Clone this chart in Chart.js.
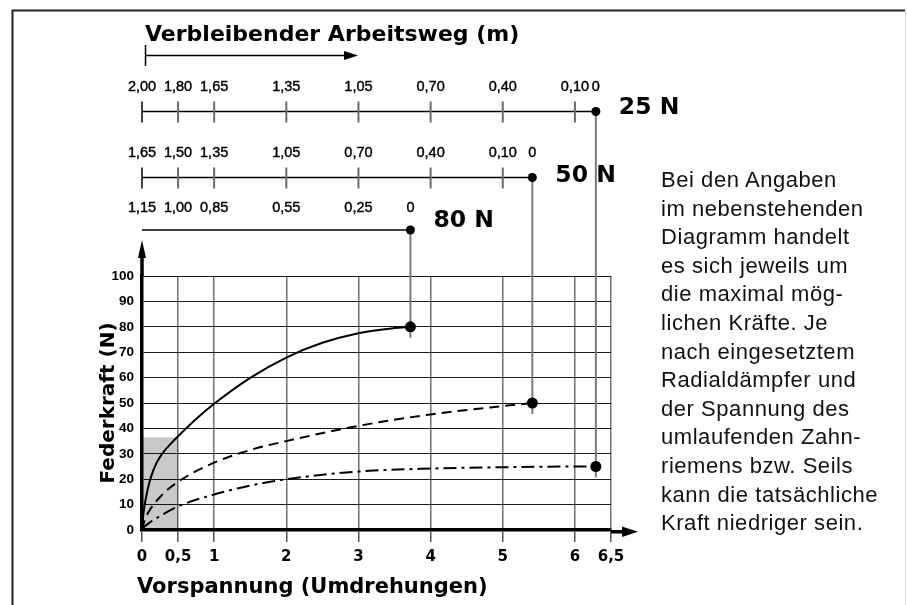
<!DOCTYPE html>
<html lang="de">
<head>
<meta charset="utf-8">
<title>Federkraft</title>
<script src="https://cdn.jsdelivr.net/npm/chart.js@4.4.0/dist/chart.umd.min.js"></script>
<style>
  body { margin: 0; background: #fff; }
  #wrap { position: relative; width: 907px; height: 605px; overflow: hidden; }
  #federChart { position: absolute; left: 0; top: 0; }
  #hinweis {
    position: absolute; left: 661px; top: 166px;
    font-family: "Liberation Sans", sans-serif; font-size: 22px; line-height: 28.6px;
    letter-spacing: 0.55px; color: #111; white-space: nowrap;
  }
</style>
</head>
<body>
<div id="wrap">
  <canvas id="federChart" width="907" height="605"></canvas>
  <div id="hinweis">
    Bei den Angaben<br>
    im nebenstehenden<br>
    Diagramm handelt<br>
    es sich jeweils um<br>
    die maximal mög-<br>
    lichen Kräfte. Je<br>
    nach eingesetztem<br>
    Radialdämpfer und<br>
    der Spannung des<br>
    umlaufenden Zahn-<br>
    riemens bzw. Seils<br>
    kann die tatsächliche<br>
    Kraft niedriger sein.
  </div>
</div>
<script>
// Achsen
const vorspannungTicks = [0, 0.5, 1, 2, 3, 4, 5, 6, 6.5];
const kraftMax = 100;

// Kennlinien (Vorspannung in Umdrehungen -> Federkraft in N)
const kurve80x = [0, 0.02, 0.05, 0.1, 0.15, 0.2, 0.25, 0.3, 0.4, 0.5, 0.75, 1, 1.5, 2, 2.5, 3, 3.5, 3.72];
const kurve80y = [0, 6.5, 12, 18.5, 23, 26.3, 28.8, 30.8, 34, 36.9, 43.7, 49.7, 59.9, 67.9, 73.7, 77.5, 79.5, 80];

const kurve50x = [0, 0.035, 0.1, 0.25, 0.5, 1, 1.5, 2, 3, 4, 5, 5.41];
const kurve50y = [0, 3.7, 7.5, 13, 19, 26.5, 31.5, 35, 41, 45.5, 48.8, 50];

const kurve25x = [0, 0.1, 0.25, 0.5, 1, 1.5, 2, 3, 4, 5, 6, 6.29];
const kurve25y = [0.5, 2.8, 5.5, 9.3, 14, 17.5, 20, 23, 24.2, 24.7, 25, 25];

// Endpunkte der Kennlinien
const endeX = [3.72, 5.41, 6.29];
const endeY = [80, 50, 25];
const endeLabels = ['80 N', '50 N', '25 N'];

// grau hinterlegter Bereich
const grauX = [0, 0.5];
const grauY = 36.5;

// Verbleibender Arbeitsweg je Kennlinie
const weg80Pos = [0, 0.5, 1, 2, 3, 3.72];
const weg80 = ['1,15', '1,00', '0,85', '0,55', '0,25', '0'];
const weg50Pos = [0, 0.5, 1, 2, 3, 4, 5, 5.41];
const weg50 = ['1,65', '1,50', '1,35', '1,05', '0,70', '0,40', '0,10', '0'];
const weg25Pos = [0, 0.5, 1, 2, 3, 4, 5, 6, 6.29];
const weg25 = ['2,00', '1,80', '1,65', '1,35', '1,05', '0,70', '0,40', '0,10', '0'];

const pts = (xs, ys) => xs.map((x, i) => ({ x: x, y: ys[i] }));

// Zeilen oberhalb des Diagramms (y in Pixel)
const reihen = [
  { pos: weg80Pos, labels: weg80, y: 230, labelY: 208, nY: 227, striche: false },
  { pos: weg50Pos, labels: weg50, y: 177.5, labelY: 153, nY: 182, striche: true },
  { pos: weg25Pos, labels: weg25, y: 111.5, labelY: 87, nY: 113.5, striche: true }
];

const skizze = {
  id: 'skizze',
  beforeDraw(chart) {
    const c = chart.ctx;
    c.save();
    c.fillStyle = '#fff';
    c.fillRect(0, 0, chart.width, chart.height);
    c.strokeStyle = '#222';
    c.lineWidth = 2;
    c.beginPath();
    c.moveTo(12.5, 605); c.lineTo(12.5, 10.5); c.lineTo(905, 10.5);
    c.stroke();
    c.strokeStyle = '#ddd';
    c.lineWidth = 1;
    c.beginPath(); c.moveTo(905.5, 11); c.lineTo(905.5, 605); c.stroke();
    c.restore();
  },
  beforeDatasetsDraw(chart) {
    const c = chart.ctx, x = chart.scales.x, y = chart.scales.y;
    c.save();
    c.strokeStyle = '#7a7a7a';
    c.lineWidth = 2;
    endeX.forEach((v, i) => {
      const px = x.getPixelForValue(v), py = y.getPixelForValue(endeY[i]);
      c.beginPath(); c.moveTo(px, reihen[i].y); c.lineTo(px, py + 11); c.stroke();
    });
    c.restore();
  },
  afterDraw(chart) {
    const c = chart.ctx, x = chart.scales.x;
    const a = chart.chartArea;
    c.save();

    // Achsenpfeile
    c.fillStyle = '#000';
    c.strokeStyle = '#000';
    c.lineWidth = 3.5;
    c.beginPath(); c.moveTo(a.left, a.top); c.lineTo(a.left, 255); c.stroke();
    c.beginPath(); c.moveTo(a.left, 240); c.lineTo(a.left - 4, 258); c.lineTo(a.left + 4, 258); c.closePath(); c.fill();
    c.beginPath(); c.moveTo(a.right, a.bottom + 1.75); c.lineTo(626, a.bottom + 1.75); c.stroke();
    c.beginPath(); c.moveTo(638, a.bottom + 1.75); c.lineTo(622, a.bottom - 3.5); c.lineTo(622, a.bottom + 7); c.closePath(); c.fill();

    // Arbeitsweg-Skalen
    reihen.forEach((r, i) => {
      const x0 = x.getPixelForValue(r.pos[0]);
      const xe = x.getPixelForValue(r.pos[r.pos.length - 1]);
      c.strokeStyle = '#000';
      c.lineWidth = 1.5;
      c.beginPath(); c.moveTo(x0, r.y); c.lineTo(xe, r.y); c.stroke();
      if (r.striche) {
        r.pos.slice(0, -1).forEach((p, k) => {
          const px = x.getPixelForValue(p);
          c.strokeStyle = k === 0 ? '#000' : '#6a6a6a';
          c.lineWidth = k === 0 ? 1.5 : 2;
          c.beginPath(); c.moveTo(px, r.y - 10); c.lineTo(px, r.y + 11); c.stroke();
        });
      }
      c.fillStyle = '#000';
      c.beginPath(); c.arc(xe, r.y, 4.5, 0, Math.PI * 2); c.fill();

      c.font = '14.5px "Liberation Sans"';
      c.textAlign = 'center';
      c.textBaseline = 'middle';
      c.strokeStyle = '#000';
      c.lineWidth = 0.4;
      r.labels.forEach((t, k) => {
        const px = x.getPixelForValue(r.pos[k]);
        c.fillText(t, px, r.labelY);
        c.strokeText(t, px, r.labelY);
      });

      c.font = 'bold 23.5px "DejaVu Sans"';
      c.textAlign = 'left';
      c.textBaseline = 'alphabetic';
      c.fillText(endeLabels[i], xe + 23, r.nY);
    });

    // Titel
    c.fillStyle = '#000';
    c.font = 'bold 22px "DejaVu Sans"';
    c.textAlign = 'left';
    c.textBaseline = 'alphabetic';
    c.fillText('Verbleibender Arbeitsweg (m)', 145, 41);
    c.strokeStyle = '#000';
    c.lineWidth = 1.5;
    c.beginPath(); c.moveTo(145.5, 45); c.lineTo(145.5, 66); c.stroke();
    c.beginPath(); c.moveTo(145.5, 55.5); c.lineTo(346, 55.5); c.stroke();
    c.beginPath(); c.moveTo(358, 55.5); c.lineTo(344, 51); c.lineTo(344, 60); c.closePath(); c.fill();

    c.font = 'bold 21px "DejaVu Sans"';
    c.fillText('Vorspannung (Umdrehungen)', 137, 593);

    c.save();
    c.translate(114, (a.top + a.bottom) / 2);
    c.rotate(-Math.PI / 2);
    c.textAlign = 'center';
    c.font = 'bold 20px "DejaVu Sans"';
    c.fillText('Federkraft (N)', 0, 0);
    c.restore();

    c.restore();
  }
};

const canvasElement = document.getElementById('federChart');
const config = {
  type: 'line',
  data: {
    datasets: [
      {
        label: '80 N', data: pts(kurve80x, kurve80y), borderColor: '#000', borderWidth: 2,
        pointRadius: 0, cubicInterpolationMode: 'monotone', fill: false, order: 1
      },
      {
        label: '50 N', data: pts(kurve50x, kurve50y), borderColor: '#000', borderWidth: 2,
        borderDash: [10, 6], pointRadius: 0, cubicInterpolationMode: 'monotone', fill: false, order: 1
      },
      {
        label: '25 N', data: pts(kurve25x, kurve25y), borderColor: '#000', borderWidth: 2,
        borderDash: [13, 5, 3, 5], pointRadius: 0, cubicInterpolationMode: 'monotone', fill: false, order: 1
      },
      {
        label: 'Endpunkte', data: pts(endeX, endeY), showLine: false,
        pointRadius: 5.5, pointBackgroundColor: '#000', pointBorderWidth: 0, order: 0
      },
      {
        label: 'Bereich', data: grauX.map(v => ({ x: v, y: grauY })), borderWidth: 0,
        pointRadius: 0, fill: 'origin', backgroundColor: 'rgba(0,0,0,0.21)', order: 5
      }
    ]
  },
  options: {
    responsive: false,
    animation: false,
    events: [],
    layout: { padding: { left: 0, right: 296, top: 276, bottom: 0 } },
    plugins: { legend: { display: false }, tooltip: { enabled: false }, title: { display: false } },
    scales: {
      x: {
        type: 'linear', min: 0, max: 6.5,
        afterBuildTicks: s => { s.ticks = vorspannungTicks.map(v => ({ value: v })); },
        afterFit: s => { s.height = 75; },
        grid: { color: '#707070', lineWidth: 1.5, drawTicks: true, tickLength: 12, tickColor: '#555', tickWidth: 1.5 },
        border: { color: '#000', width: 3.5 },
        ticks: {
          autoSkip: false, maxRotation: 0, padding: 6, color: '#000',
          font: { family: 'DejaVu Sans', weight: 'bold', size: 15 },
          callback: v => String(v).replace('.', ',')
        }
      },
      y: {
        min: 0, max: kraftMax,
        afterFit: s => { s.width = 142; },
        grid: { color: '#1a1a1a', lineWidth: 1, drawTicks: false },
        border: { color: '#000', width: 3.5 },
        ticks: {
          stepSize: 10, padding: 8, color: '#000',
          font: { family: 'Liberation Sans', weight: 'bold', size: 13.5 }
        }
      }
    }
  },
  plugins: [skizze]
};

const federChart = new Chart(canvasElement, config);
</script>
</body>
</html>
